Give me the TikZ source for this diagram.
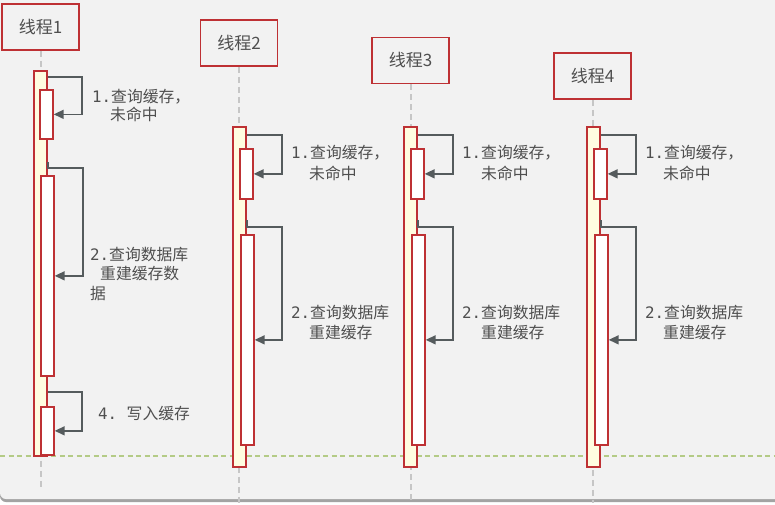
\documentclass[tikz,border=0pt]{standalone}
\usepackage{fontspec}
\setmainfont{Noto Sans CJK SC}
\newfontfamily\monof{DejaVu Sans Mono}
\usetikzlibrary{arrows.meta}
\definecolor{boxred}{HTML}{BE3134}
\definecolor{actfill}{HTML}{FFFDE0}
\definecolor{arrowc}{HTML}{555B5D}
\definecolor{lifec}{HTML}{C6C6C6}
\definecolor{greenc}{HTML}{B4CB86}
\definecolor{cardc}{HTML}{F2F2F2}
\definecolor{shadowc}{HTML}{A3A3A3}
\definecolor{txtc}{HTML}{4F4F4F}
\begin{document}
\begin{tikzpicture}[x=1pt,y=-1pt,
 title/.style={draw=boxred, line width=1.9pt, fill=cardc, minimum width=77pt, minimum height=46pt, inner sep=0pt, font=\fontsize{17}{18}\selectfont, text=txtc},
 outer/.style={draw=boxred, line width=1.7pt, fill=actfill, minimum width=13pt, inner sep=0pt, anchor=north west},
 inner/.style={draw=boxred, line width=1.7pt, fill=white, minimum width=13pt, inner sep=0pt, anchor=north west},
 life/.style={draw=lifec, line width=2pt, dash pattern=on 6pt off 4pt},
 sep/.style={draw=greenc, line width=1.6pt, dash pattern=on 5pt off 3.5pt},
 msg/.style={draw=arrowc, line width=1.6pt, -{Triangle[length=10pt,width=9pt]}},
 lbl/.style={anchor=base west, inner sep=0pt, text=txtc, font=\fontsize{15.8}{20}\selectfont},
]
\useasboundingbox (0,0) rectangle (775,505);
\fill[white] (0,0) rectangle (775,505);
\fill[shadowc, rounded corners=6pt] (0,-10) rectangle (790,502);
\fill[cardc, rounded corners=6pt] (0,-10) rectangle (790,499);

% titles
\node[title] (t1) at (40.5,27) {线程1};
\node[title] (t2) at (239,43) {线程2};
\node[title] (t3) at (410.5,60.5) {线程3};
\node[title] (t4) at (592.5,76) {线程4};

% separator
\coordinate (gL) at (0,456);
\coordinate (gR) at (775,456);
\draw[sep] (gL) -- (gR);

% lifelines
\coordinate (e1) at (40,488);
\coordinate (e2) at (239,503);
\draw[life] (t1.south) -- (t1.south |- e1);
\draw[life] (t2.south) -- (t2.south |- e2);
\draw[life] (t3.south) -- (t3.south |- e2);
\draw[life] (t4.south) -- (t4.south |- e2);

% activations thread 1
\node[outer, minimum height=385pt] (o1) at (33,70) {};
\node[inner, minimum height=49pt] (i11) at (39,89) {};
\node[inner, minimum height=200pt] (i12) at (40,175) {};
\node[inner, minimum height=48pt] (i13) at (40,406) {};
% thread 2
\node[outer, minimum height=340pt] (o2) at (232,126) {};
\node[inner, minimum height=50pt] (i21) at (239,148) {};
\node[inner, minimum height=210pt] (i22) at (240,234) {};
% thread 3
\node[outer, minimum height=340pt] (o3) at (403,126) {};
\node[inner, minimum height=50pt] (i31) at (410,148) {};
\node[inner, minimum height=210pt] (i32) at (411,234) {};
% thread 4
\node[outer, minimum height=340pt] (o4) at (586,126) {};
\node[inner, minimum height=50pt] (i41) at (593,148) {};
\node[inner, minimum height=210pt] (i42) at (594,234) {};

% self messages
\draw[msg] ([yshift=-7pt]o1.north east) -- ++(34,0) |- (i11.east);
\draw[msg] ([yshift=-92pt]o1.north east) -- ++(0,6) -- ++(35,0) |- (i12.east);
\draw[msg] ([yshift=-322pt]o1.north east) -- ++(34,0) |- (i13.east);

\draw[msg] ([yshift=-9pt]o2.north east) -- ++(35,0) |- (i21.east);
\draw[msg] ([yshift=-94pt]o2.north east) -- ++(0,7) -- ++(35,0) |- (i22.east);
\draw[msg] ([yshift=-9pt]o3.north east) -- ++(35,0) |- (i31.east);
\draw[msg] ([yshift=-94pt]o3.north east) -- ++(0,7) -- ++(35,0) |- (i32.east);
\draw[msg] ([yshift=-9pt]o4.north east) -- ++(35,0) |- (i41.east);
\draw[msg] ([yshift=-94pt]o4.north east) -- ++(0,7) -- ++(35,0) |- (i42.east);

% labels thread 1
\node[lbl] (l11a) at (92,103) {{\monof 1.}查询缓存，};
\node[lbl] (l11b) at (110,121) {未命中};
\node[lbl] (l12a) at (90,260) {{\monof 2.}查询数据库};
\node[lbl] (l12b) at (100,279) {重建缓存数};
\node[lbl] (l12c) at (90,299) {据};
\node[lbl] (l13a) at (98,419) {{\monof 4.\ }写入缓存};
% thread 2
\node[lbl] (l21a) at (291,159) {{\monof 1.}查询缓存，};
\node[lbl] (l21b) at (309,179) {未命中};
\node[lbl] (l22a) at (291,318) {{\monof 2.}查询数据库};
\node[lbl] (l22b) at (309,338) {重建缓存};
% thread 3
\node[lbl] (l31a) at (462,159) {{\monof 1.}查询缓存，};
\node[lbl] (l31b) at (481,179) {未命中};
\node[lbl] (l32a) at (462,318) {{\monof 2.}查询数据库};
\node[lbl] (l32b) at (481,338) {重建缓存};
% thread 4
\node[lbl] (l41a) at (645,159) {{\monof 1.}查询缓存，};
\node[lbl] (l41b) at (663,179) {未命中};
\node[lbl] (l42a) at (645,318) {{\monof 2.}查询数据库};
\node[lbl] (l42b) at (663,338) {重建缓存};
\end{tikzpicture}
\end{document}
